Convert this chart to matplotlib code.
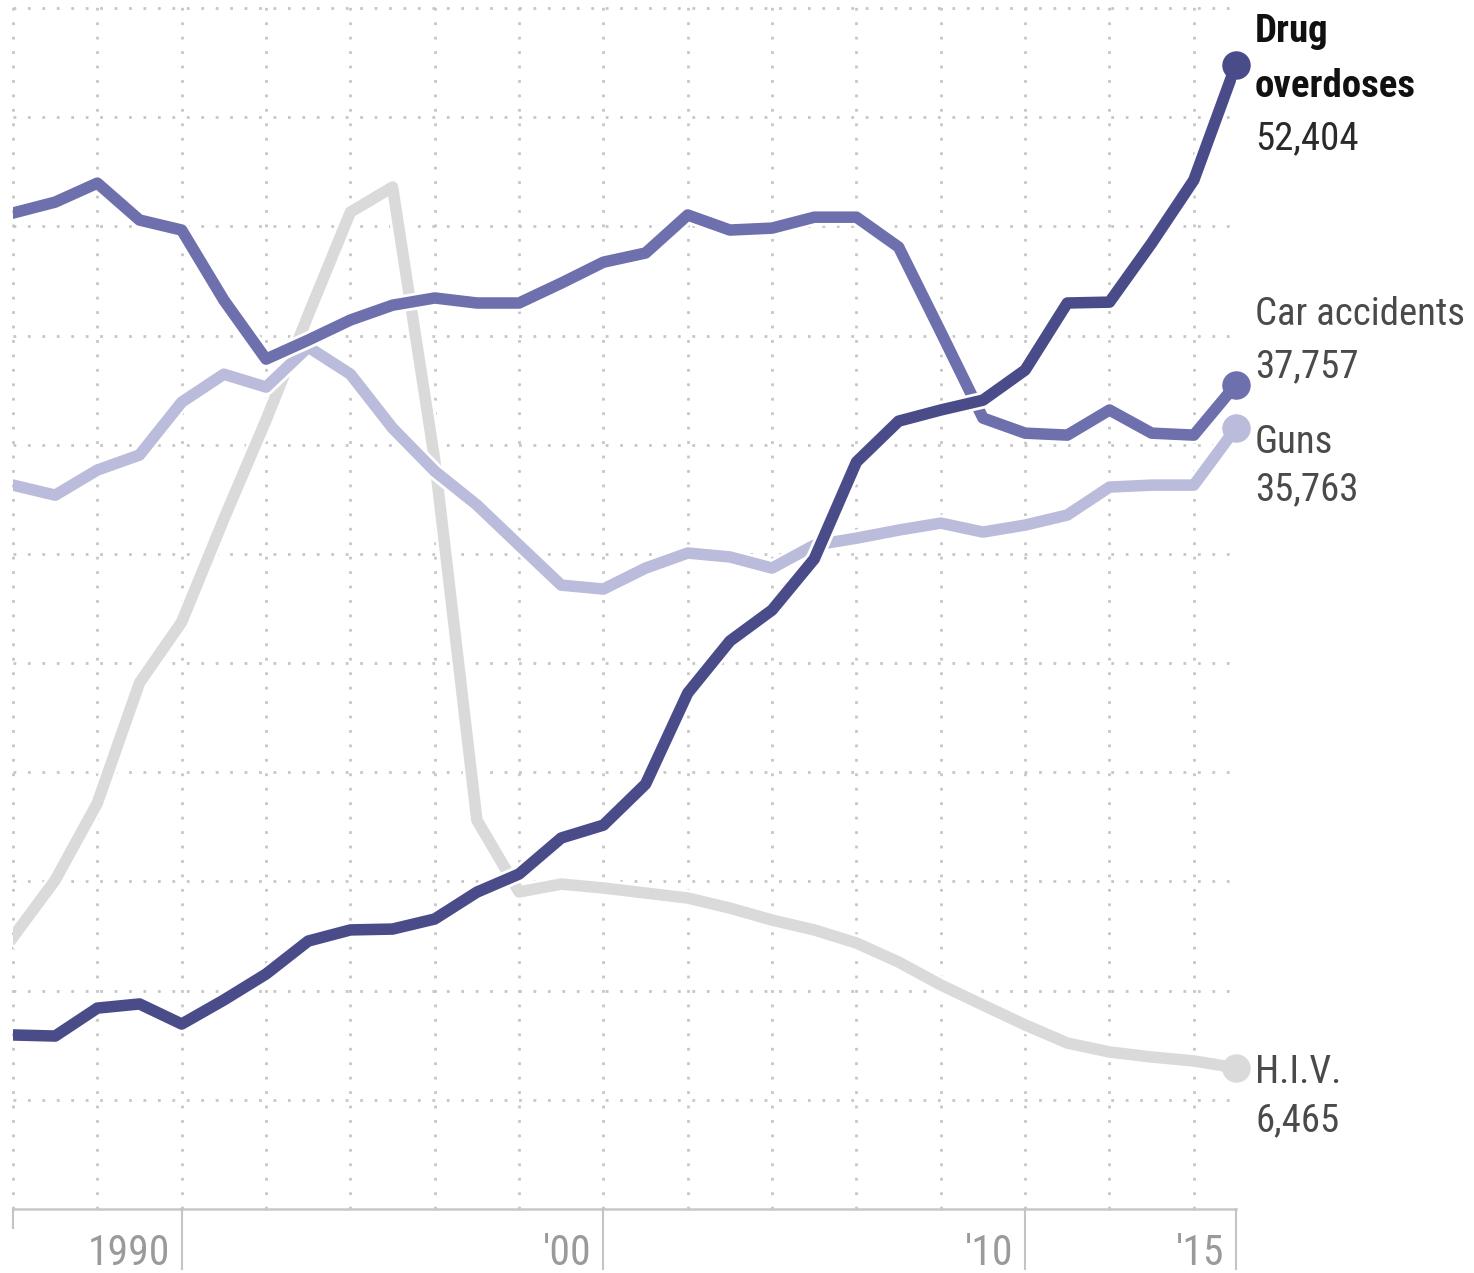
import matplotlib
matplotlib.use("Agg")
import matplotlib.pyplot as plt
import matplotlib.patheffects as pe
from matplotlib import font_manager
from matplotlib.transforms import blended_transform_factory

# deaths per year, United States
years = list(range(1986, 2016))

drug_overdoses = [7970, 7920, 9200, 9390, 8470, 9570, 10760, 12270, 12780, 12820,
                  13280, 14510, 15340, 16990, 17580, 19460, 23630, 26010, 27430, 29770,
                  34210, 36080, 36590, 37040, 38420, 41490, 41530, 44230, 47120, 52404]
car_accidents = [45610, 46110, 46980, 45290, 44830, 41620, 38920, 39790, 40710, 41390,
                 41720, 41490, 41490, 42400, 43360, 43780, 45520, 44830, 44920, 45420,
                 45420, 44050, 40160, 36220, 35530, 35440, 36590, 35530, 35440, 37757]
guns = [33150, 32690, 33840, 34530, 36950, 38230, 37640, 39470, 38230, 35760,
        33790, 32240, 30400, 28570, 28390, 29350, 30040, 29860, 29350, 30400,
        30720, 31090, 31410, 31000, 31320, 31780, 33060, 33150, 33150, 35763]
hiv = [12450, 15060, 18590, 24100, 26880, 31600, 36130, 40940, 45650, 46800,
       34300, 17810, 14520, 14880, 14700, 14470, 14240, 13780, 13230, 12780,
       12180, 11310, 10260, 9340, 8430, 7600, 7190, 6960, 6780, 6465]

tick_years = [1990, 2000, 2010, 2015]
tick_labels = ["1990", "'00", "'10", "'15"]


def pick_font(names):
    for n in names:
        try:
            font_manager.findfont(font_manager.FontProperties(family=n),
                                  fallback_to_default=False)
            return n
        except Exception:
            pass
    return "DejaVu Sans"


FONT = pick_font(["Liberation Sans Narrow", "Roboto Condensed", "Liberation Sans"])
plt.rcParams["font.family"] = [FONT, "DejaVu Sans"]

fig = plt.figure(figsize=(14.74, 12.73), dpi=100)
ax = fig.add_axes([13 / 1474, 64 / 1273, 1223 / 1474, 1209 / 1273])
ax.set_xlim(1986, 2015)
ax.set_ylim(0, 55366)
for s in ax.spines.values():
    s.set_visible(False)
ax.set_xticks([])
ax.set_yticks([])

grid_kw = dict(color="#c6c6c6", lw=2.0, ls=(0, (1, 4.2)), zorder=0)
for v in range(5000, 55001, 5000):
    ax.axhline(v, **grid_kw)
for yr in range(1986, 2015, 2):
    ax.axvline(yr, clip_on=False, **grid_kw)

# baseline and ticks
ax.axhline(0, color="#c8c8c8", lw=1.8, clip_on=False, zorder=1)
trans = blended_transform_factory(ax.transData, ax.transAxes)
ax.plot([1986, 1986], [0, -0.016], transform=trans, color="#c4c4c4", lw=1.5, clip_on=False)
for yr, lbl in zip(tick_years, tick_labels):
    ax.plot([yr, yr], [0, -0.05], transform=trans, color="#c4c4c4", lw=1.5, clip_on=False)
    ax.annotate(lbl, xy=(yr, 0), xycoords=trans, xytext=(-8.5, -40),
                textcoords="offset points", ha="right", va="baseline",
                fontsize=30, color="#9a9a9a")

series = [
    ("H.I.V.", hiv, "#dadada", 2),
    ("Guns", guns, "#bbbbdb", 3),
    ("Car accidents", car_accidents, "#6e6fad", 4),
    ("Drug\noverdoses", drug_overdoses, "#4a4c89", 5),
]
lw = 8.3
for name, vals, color, z in series:
    halo = [pe.Stroke(linewidth=lw + 4, foreground="white"), pe.Normal()]
    ax.plot(years, vals, color=color, lw=lw, solid_joinstyle="round",
            zorder=z, path_effects=halo)
    ax.plot(years[-1], vals[-1], "o", ms=19.5, color=color, zorder=z + 0.5,
            clip_on=False)

# end labels: (name lines, value, offsets in points for name and number, bold)
labels = [
    (["Drug", "overdoses"], drug_overdoses[-1], [16.6, -23], -61.2, True),
    (["Car accidents"], car_accidents[-1], [42.5], 5, False),
    (["Guns"], guns[-1], [-18], -52, False),
    (["H.I.V."], hiv[-1], [-10.8], -46, False),
]
for lines, val, offs, num_off, bold in labels:
    for txt, dy in zip(lines, offs):
        ax.annotate(txt, xy=(2015, val), xytext=(13.7, dy), textcoords="offset points",
                    ha="left", va="baseline", fontsize=28,
                    fontweight="bold" if bold else "normal",
                    color="#111111" if bold else "#4a4a4a", annotation_clip=False)
    ax.annotate(f"{val:,}", xy=(2015, val), xytext=(13.7, num_off),
                textcoords="offset points", ha="left", va="baseline", fontsize=28,
                color="#2a2a2a" if bold else "#4a4a4a", annotation_clip=False)

fig.savefig("out.png", dpi=100)
